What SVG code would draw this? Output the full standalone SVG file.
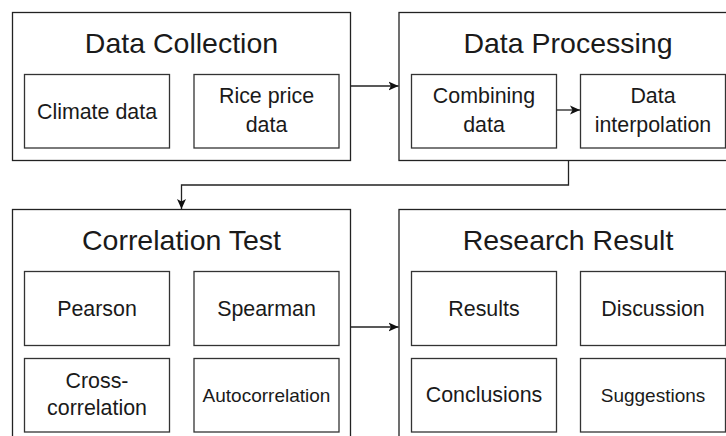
<svg xmlns="http://www.w3.org/2000/svg" width="726" height="436" viewBox="0 0 726 436">
<defs>
<style>
.outer{fill:#fff;stroke:#222;stroke-width:1.3}
.inner{fill:#fff;stroke:#333;stroke-width:1.3}
.t{font-family:"Liberation Sans",Arial,sans-serif;fill:#1a1a1a;text-anchor:middle}
.title{font-size:28.5px}
.lbl{font-size:21.4px}
.sm{font-size:19px}
.conn{fill:none;stroke:#222;stroke-width:1.3}
</style>
<marker id="arr" markerUnits="userSpaceOnUse" markerWidth="12" markerHeight="12" refX="10" refY="5" orient="auto">
<path d="M0,0.5 L10,5 L0,9.5 L2.5,5 Z" fill="#111"/>
</marker>
</defs>
<rect width="726" height="436" fill="#fff"/>
<g id="data-collection">
<rect class="outer" x="12.5" y="12.5" width="338" height="148"/>
<text class="t title" x="181.5" y="53">Data Collection</text>
<g id="climate-data">
<rect class="inner" x="24.5" y="74.5" width="145" height="73.5"/>
<text class="t lbl" x="97" y="118.5">Climate data</text>
</g>
<g id="rice-price-data">
<rect class="inner" x="194" y="74.5" width="145" height="73.5"/>
<text class="t lbl" x="266.5" y="103.3">Rice price</text>
<text class="t lbl" x="266.5" y="131.7">data</text>
</g>
</g>
<g id="data-processing">
<rect class="outer" x="399" y="12.5" width="338" height="148"/>
<text class="t title" x="568" y="53">Data Processing</text>
<g id="combining-data">
<rect class="inner" x="411.5" y="74.5" width="145" height="73.5"/>
<text class="t lbl" x="484" y="103.3">Combining</text>
<text class="t lbl" x="484" y="131.7">data</text>
</g>
<g id="data-interpolation">
<rect class="inner" x="580.5" y="74.5" width="145" height="73.5"/>
<text class="t lbl" x="653" y="103.3">Data</text>
<text class="t lbl" x="653" y="131.7">interpolation</text>
</g>
</g>
<g id="correlation-test">
<rect class="outer" x="12.5" y="209.5" width="338" height="240"/>
<text class="t title" x="181.5" y="249.5">Correlation Test</text>
<g id="pearson">
<rect class="inner" x="24.5" y="271.5" width="145" height="74"/>
<text class="t lbl" x="97" y="316">Pearson</text>
</g>
<g id="spearman">
<rect class="inner" x="194" y="271.5" width="145" height="74"/>
<text class="t lbl" x="266.5" y="316">Spearman</text>
</g>
<g id="cross-correlation">
<rect class="inner" x="24.5" y="358.5" width="145" height="73.5"/>
<text class="t lbl" x="97" y="387.7">Cross-</text>
<text class="t lbl" x="97" y="415">correlation</text>
</g>
<g id="autocorrelation">
<rect class="inner" x="194" y="358.5" width="145" height="73.5"/>
<text class="t sm" x="266.5" y="401.5">Autocorrelation</text>
</g>
</g>
<g id="research-result">
<rect class="outer" x="399" y="209.5" width="338" height="240"/>
<text class="t title" x="568" y="249.5">Research Result</text>
<g id="results">
<rect class="inner" x="411.5" y="271.5" width="145" height="74"/>
<text class="t lbl" x="484" y="316">Results</text>
</g>
<g id="discussion">
<rect class="inner" x="580.5" y="271.5" width="145" height="74"/>
<text class="t lbl" x="653" y="316">Discussion</text>
</g>
<g id="conclusions">
<rect class="inner" x="411.5" y="358.5" width="145" height="73.5"/>
<text class="t lbl" x="484" y="402">Conclusions</text>
</g>
<g id="suggestions">
<rect class="inner" x="580.5" y="358.5" width="145" height="73.5"/>
<text class="t sm" x="653" y="401.5">Suggestions</text>
</g>
</g>
<g id="connectors">
<path class="conn" d="M350.5,86 L398.5,86" marker-end="url(#arr)"/>
<path class="conn" d="M556.5,110 L580,110" marker-end="url(#arr)"/>
<path class="conn" d="M568.5,160.5 L568.5,185 L181.5,185 L181.5,209" marker-end="url(#arr)"/>
<path class="conn" d="M350.5,327 L398.5,327" marker-end="url(#arr)"/>
</g>
</svg>
